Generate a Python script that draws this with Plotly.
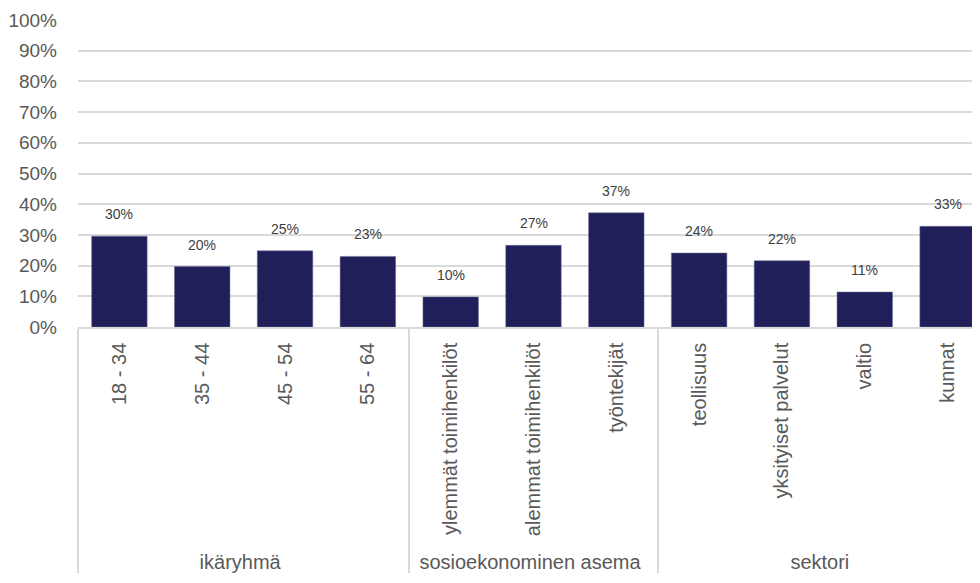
import plotly.graph_objects as go

groups = ["ikäryhmä"] * 4 + ["sosioekonominen asema"] * 3 + ["sektori"] * 4
categories = ["18 - 34", "35 - 44", "45 - 54", "55 - 64",
              "ylemmät toimihenkilöt", "alemmat toimihenkilöt", "työntekijät",
              "teollisuus", "yksityiset palvelut", "valtio", "kunnat"]
values = [29.6, 19.7, 24.8, 23.0, 9.8, 26.6, 37.2, 24.1, 21.6, 11.4, 32.8]
labels = ["30%", "20%", "25%", "23%", "10%", "27%", "37%", "24%", "22%", "11%", "33%"]

fig = go.Figure(go.Bar(
    x=[groups, categories], y=values,
    marker=dict(color="#201F5A", line=dict(color="#6E6E9A", width=0.5)),
    width=0.67,
))

# data labels sit a little above each bar (Excel "outside end")
for i, (v, t) in enumerate(zip(values, labels)):
    fig.add_annotation(xref="x", x=i, y=v, text=t, showarrow=False, yshift=22,
                       font=dict(size=14, color="#404040"))

# page body adds an 8px margin; the original chart runs slightly past the right edge
fig.update_layout(
    width=981, height=575,
    margin=dict(l=70, r=0, t=12, b=256),
    paper_bgcolor="white", plot_bgcolor="white",
    font=dict(family="Liberation Sans, Arial, sans-serif", color="#595959", size=20),
    showlegend=False,
)
fig.update_xaxes(type="multicategory", tickangle=-90, tickfont=dict(size=20, color="#595959"),
                 showline=True, linecolor="#D9D9D9", linewidth=1.5,
                 showdividers=True, dividercolor="#D9D9D9", dividerwidth=1.5,
                 ticks="", automargin=False, ticklabelstandoff=6)
fig.update_yaxes(range=[0, 100], dtick=10, ticksuffix="%", showgrid=True, gridcolor="#D9D9D9",
                 gridwidth=1.5, zeroline=False, tickfont=dict(size=19, color="#595959"),
                 automargin=False, ticklabelstandoff=20)

fig.write_html("out.html")
